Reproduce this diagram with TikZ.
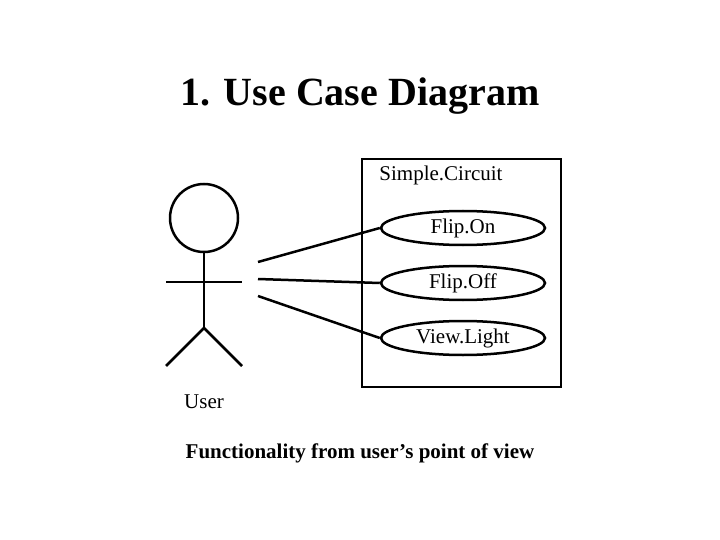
\documentclass[tikz,border=0pt]{standalone}
\usepackage{fontspec}
\setmainfont{Liberation Serif}
\usetikzlibrary{shapes.geometric}
\begin{document}
\begin{tikzpicture}[x=1pt,y=-1pt,
  uc/.style={draw,ellipse,line width=2.5pt,minimum width=164pt,minimum height=34pt,inner sep=0pt,font=\fontsize{21}{24}\selectfont},
  ln/.style={line width=2.5pt}]
\useasboundingbox (0,0) rectangle (720,540);
\node[font=\fontsize{40}{46}\selectfont\bfseries] (title) at (360,96) {1. Use Case Diagram};
\draw[ln] (362,159) rectangle (561,387);
\node[font=\fontsize{21}{24}\selectfont] (sys) at (441,175) {Simple.Circuit};
\node[uc] (on) at (463,228) {Flip.On};
\node[uc] (off) at (463,283) {Flip.Off};
\node[uc] (vl) at (463,338) {View.Light};
\coordinate (a1) at (258,262);
\coordinate (a2) at (258,279);
\coordinate (a3) at (258,296);
\draw[ln] (a1) -- (on.west);
\draw[ln] (a2) -- (off.west);
\draw[ln] (a3) -- (vl.west);
\node[draw,circle,line width=2.5pt,minimum size=68pt,inner sep=0pt] (head) at (204,218) {};
\coordinate (hip) at (204,328);
\draw[ln] (head.south) -- (hip);
\draw[ln] (166,282) -- (242,282);
\draw[ln] (166,366) -- (hip) -- (242,366);
\node[font=\fontsize{21}{24}\selectfont] (user) at (204,402) {User};
\node[font=\fontsize{21}{24}\selectfont\bfseries] (cap) at (360,453) {Functionality from user’s point of view};
\end{tikzpicture}
\end{document}
